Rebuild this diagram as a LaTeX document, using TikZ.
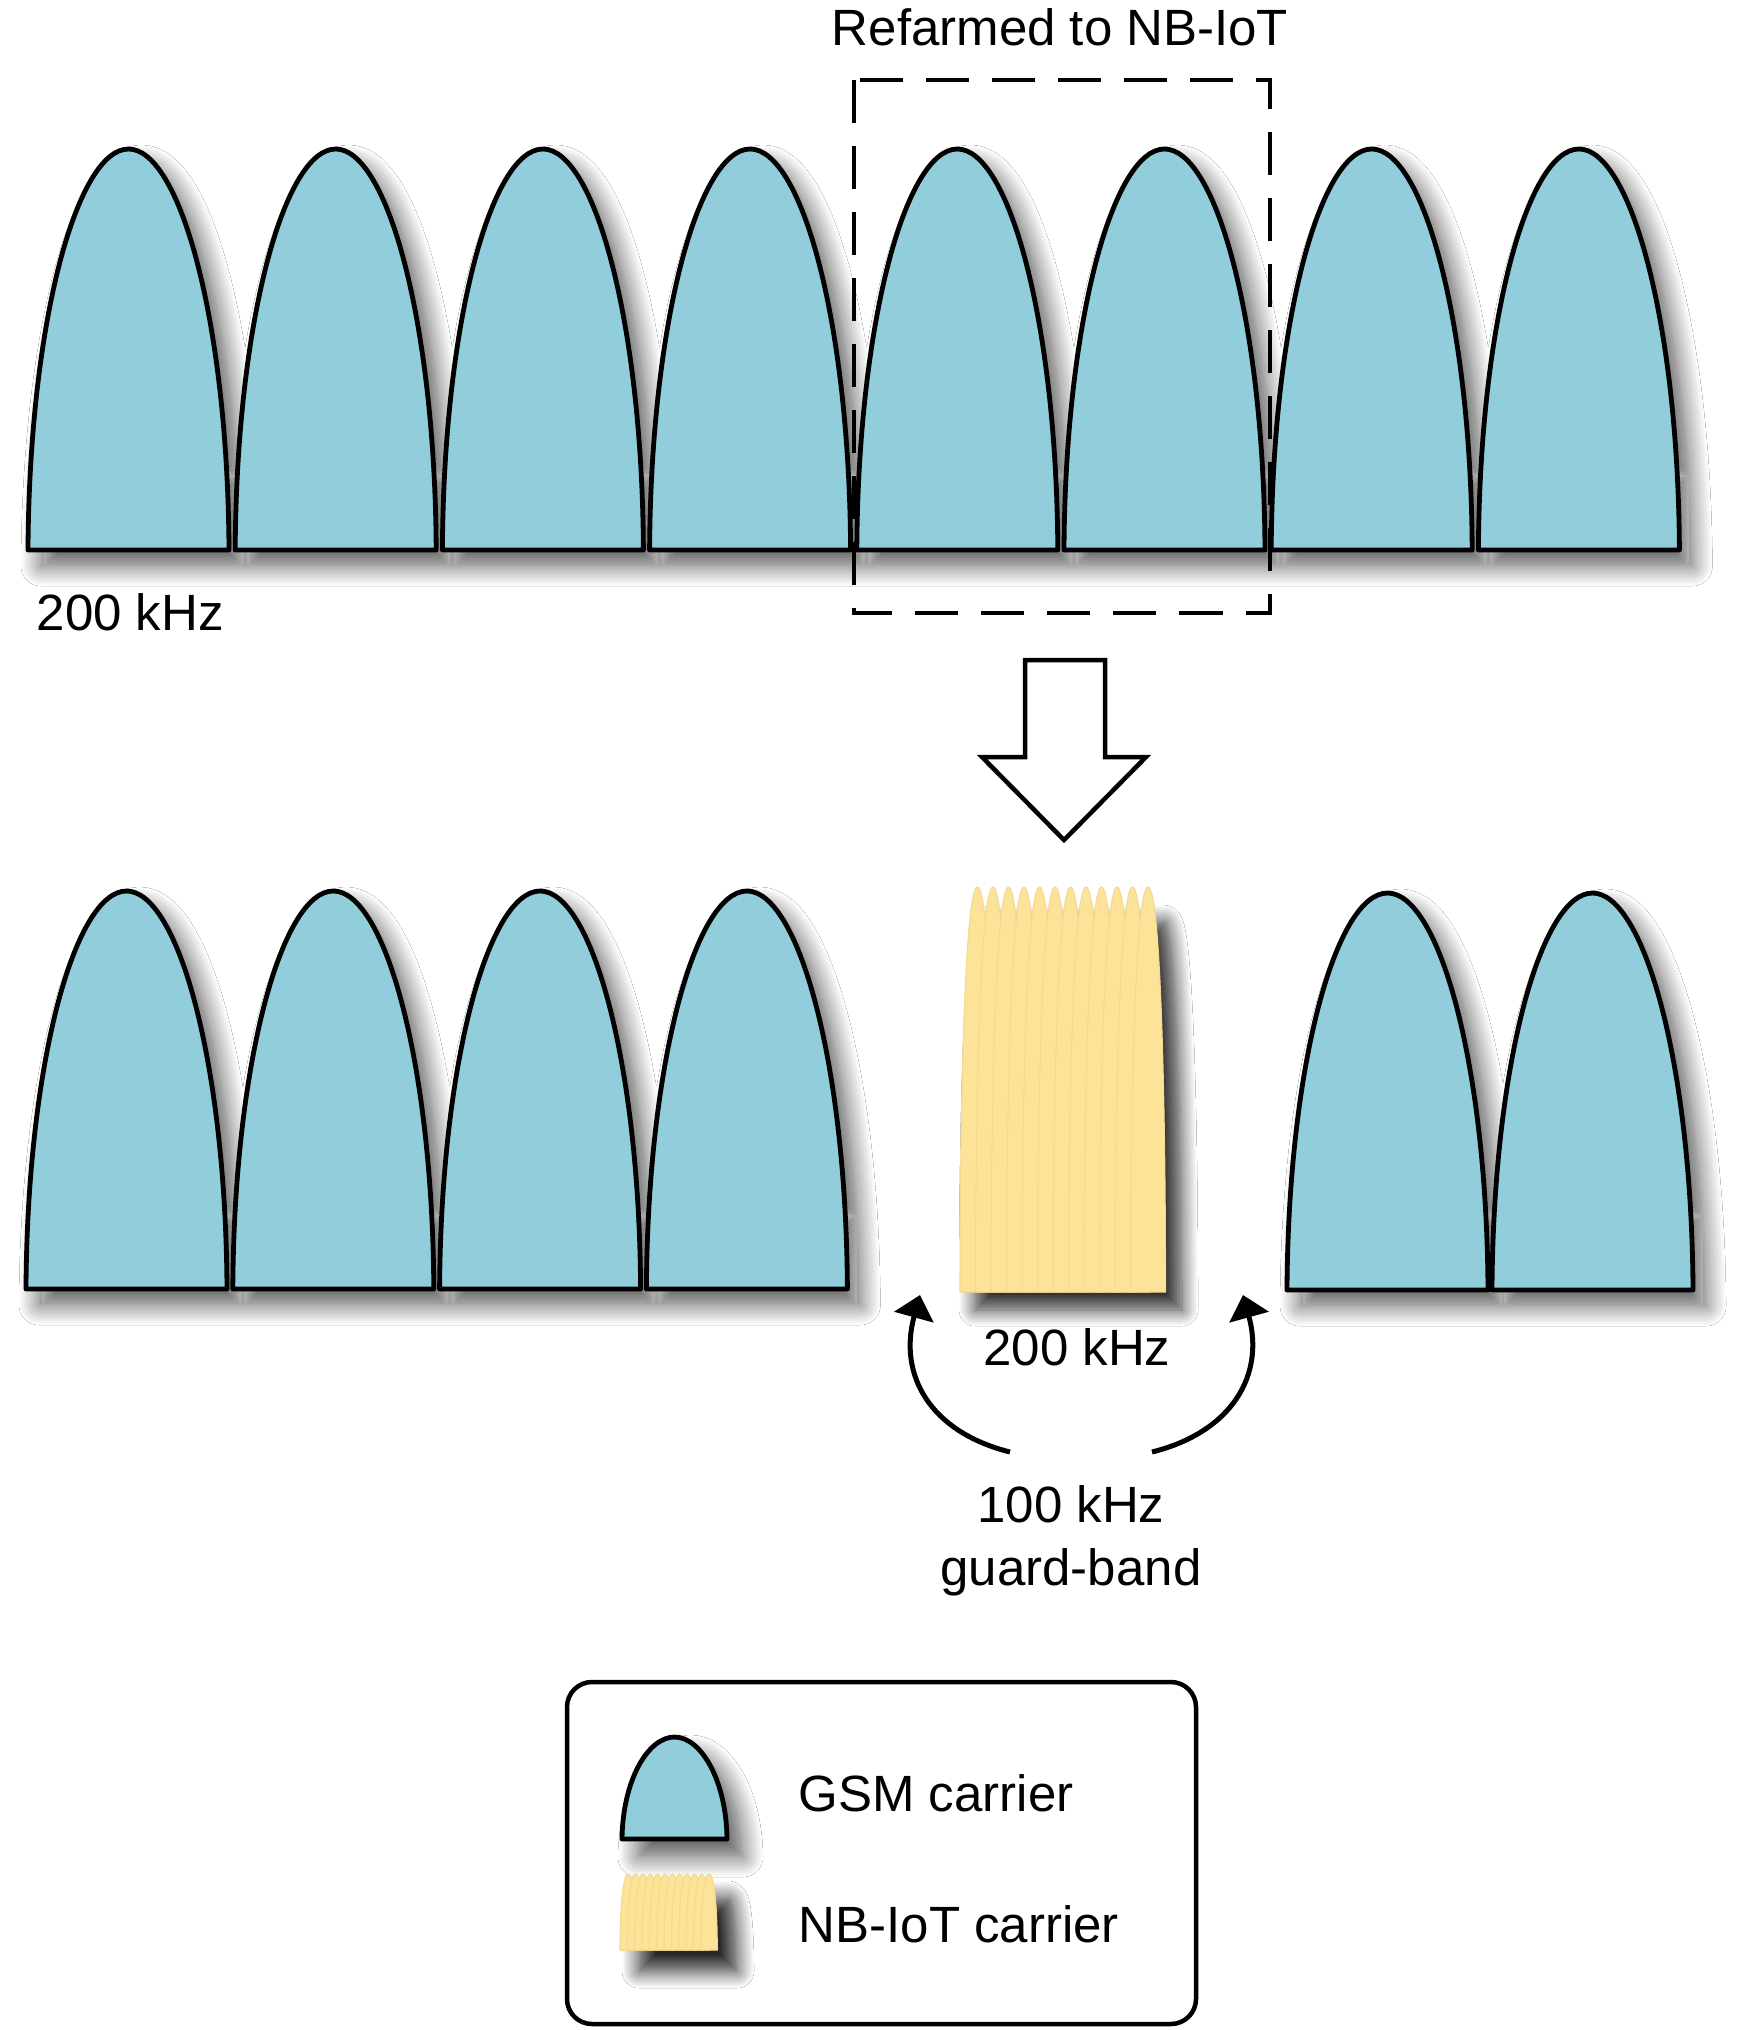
\documentclass[tikz,border=0pt]{standalone}
\usepackage{fontspec}
\setmainfont{Liberation Sans}
\usetikzlibrary{shadows.blur,arrows.meta}
\definecolor{gsmblue}{HTML}{92CDDC}
\definecolor{nbyellow}{HTML}{FCE398}
\definecolor{nbline}{HTML}{F4D98E}

\tikzset{
 gsm/.style={fill=gsmblue, draw=black, line width=0.048cm, line join=round},
 gsmshadow/.style={blur shadow={shadow xshift=0.13cm, shadow yshift=-0.16cm, shadow blur radius=0.2cm, shadow blur steps=12, shadow opacity=65}},
 legshadow/.style={blur shadow={shadow xshift=0.16cm, shadow yshift=-0.18cm, shadow blur radius=0.2cm, shadow blur steps=12, shadow opacity=65}},
 nbshadow/.style={blur shadow={shadow xshift=0.15cm, shadow yshift=-0.18cm, shadow blur radius=0.16cm, shadow blur steps=12, shadow opacity=80}},
 nblegshadow/.style={blur shadow={shadow xshift=0.19cm, shadow yshift=-0.21cm, shadow blur radius=0.17cm, shadow blur steps=12, shadow opacity=85}},
 lobe/.style={fill=nbyellow, draw=nbline, line width=0.3pt},
 txt/.style={font=\fontsize{14.5pt}{17pt}\selectfont, inner sep=0pt},
 dashbox/.style={draw=black, line width=0.045cm, dash pattern=on 0.43cm off 0.23cm},
 blockarrow/.style={draw=black, fill=white, line width=0.045cm, line join=miter},
 curvearrow/.style={draw=black, line width=0.05cm, -{Triangle[length=0.23cm, width=0.40cm]}},
 legendbox/.style={draw=black, line width=0.045cm, rounded corners=0.25cm},
}

% outline of a GSM carrier (half-ellipse like): #1 left x, #2 bottom y, #3 width, #4 height
\newcommand\bumpoutline[4]{({#1},{#2}) .. controls ({(#1)+0.006*(#3)},{(#2)-0.57*(#4)}) and ({(#1)+0.245*(#3)},{(#2)-(#4)}) .. ({(#1)+0.5*(#3)},{(#2)-(#4)})
   .. controls ({(#1)+0.755*(#3)},{(#2)-(#4)}) and ({(#1)+0.994*(#3)},{(#2)-0.57*(#4)}) .. ({(#1)+(#3)},{#2}) -- cycle}
\newcommand\gsmbump[5][]{\path[gsm,#1] \bumpoutline{#2}{#3}{#4}{#5};}

% one narrow lobe: #1 left x, #2 bottom y, #3 width, #4 height
\newcommand\nblobe[4]{%
 \path[lobe] ({#1},{#2}) .. controls ({(#1)},{(#2)-0.5*(#4)}) and ({(#1)+0.15*(#3)},{(#2)-(#4)}) .. ({(#1)+0.5*(#3)},{(#2)-(#4)})
   .. controls ({(#1)+0.85*(#3)},{(#2)-(#4)}) and ({(#1)+(#3)},{(#2)-0.5*(#4)}) .. ({(#1)+(#3)},{#2}) -- cycle;}

% NB-IoT block: #1 shadow style, #2 left x, #3 top y, #4 width, #5 height
\newcommand\nbblock[5][nbshadow]{%
 \path[#1] ({#2},{(#3)+(#5)}) .. controls ({#2},{(#3)+0.5*(#5)}) and ({(#2)+0.15*0.169*(#4)},{(#3)+0.04*(#5)}) .. ({(#2)+0.5*0.169*(#4)},{(#3)+0.04*(#5)})
   -- ({(#2)+(#4)-0.5*0.169*(#4)},{(#3)+0.04*(#5)}) .. controls ({(#2)+(#4)-0.15*0.169*(#4)},{(#3)+0.04*(#5)}) and ({(#2)+(#4)},{(#3)+0.5*(#5)}) .. ({(#2)+(#4)},{(#3)+(#5)}) -- cycle;
 \foreach \i in {0,...,11}{\nblobe{(#2)+\i*0.0749*(#4)}{(#3)+(#5)}{0.169*(#4)}{#5}}}

\begin{document}
\begin{tikzpicture}[x=0.01cm,y=-0.01cm]
\fill[white] (0,0) rectangle (1752,2030);
\useasboundingbox (0,0) rectangle (1752,2030);

% top row of GSM carriers (one shared shadow, then the carriers)
\path[gsmshadow] \bumpoutline{28}{550}{201}{401} \bumpoutline{235.2}{550}{201}{401}
  \bumpoutline{442.4}{550}{201}{401} \bumpoutline{649.6}{550}{201}{401}
  \bumpoutline{856.8}{550}{201}{401} \bumpoutline{1064}{550}{201}{401}
  \bumpoutline{1271.2}{550}{201}{401} \bumpoutline{1478.4}{550}{201}{401}
  (32,550) rectangle (1675,460);
\foreach \i in {0,...,7}{\gsmbump{28+\i*207.2}{550}{201}{401}}

% refarming box
\draw[dashbox] (854,80) rectangle (1270,613);
\node[txt, anchor=base] (refarm) at (1060,45) {Refarmed to NB-IoT};
\node[txt, anchor=base west] (khzA) at (36,630) {200 kHz};

% block arrow
\path[blockarrow] (1025,660) -- (1105,660) -- (1105,757) -- (1146,757) -- (1064,840) -- (982,757) -- (1025,757) -- cycle;

% bottom row
\path[gsmshadow] \bumpoutline{26}{1289}{201}{398} \bumpoutline{232.8}{1289}{201}{398}
  \bumpoutline{439.6}{1289}{201}{398} \bumpoutline{646.4}{1289}{201}{398}
  (30,1289) rectangle (843,1200);
\foreach \i in {0,...,3}{\gsmbump{26+\i*206.8}{1289}{201}{398}}
\path[gsmshadow] \bumpoutline{1287}{1290}{201}{397} \bumpoutline{1492}{1290}{201}{397}
  (1291,1290) rectangle (1689,1200);
\gsmbump{1287}{1290}{201}{397}
\gsmbump{1492}{1290}{201}{397}

% NB-IoT carrier
\nbblock{960}{887}{207}{405}

% labels
\node[txt, anchor=base] (khzB) at (1077,1365) {200 kHz};
\node[txt, anchor=base] (gb1) at (1071,1522) {100 kHz};
\node[txt, anchor=base] (gb2) at (1071,1585) {guard-band};

% guard-band arrows
\coordinate (tailL) at (1010,1452);
\coordinate (tipL) at (920,1295);
\coordinate (tailR) at (1152,1452);
\coordinate (tipR) at (1243,1295);
\draw[curvearrow] (tailL) .. controls (930,1432) and (898,1375) .. (tipL);
\draw[curvearrow] (tailR) .. controls (1232,1432) and (1265,1375) .. (tipR);

% legend
\draw[legendbox] (567,1682) rectangle (1196,2024);
\gsmbump[legshadow]{622}{1839}{105}{102}
\nbblock[nblegshadow]{620}{1874}{98}{76}
\node[txt, anchor=base west] (leg1) at (798,1811) {GSM carrier};
\node[txt, anchor=base west] (leg2) at (798,1942) {NB-IoT carrier};
\end{tikzpicture}
\end{document}
